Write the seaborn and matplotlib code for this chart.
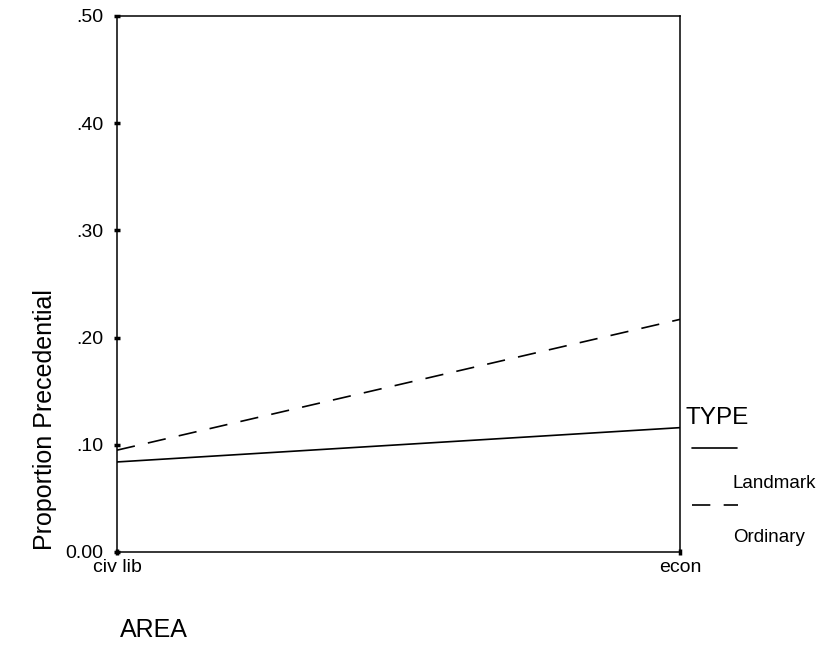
import matplotlib
matplotlib.use("Agg")
import matplotlib.pyplot as plt
import seaborn as sns
import pandas as pd
from matplotlib.lines import Line2D

sns.set_theme(style="white")
plt.rcParams['font.family'] = ['Liberation Sans', 'DejaVu Sans']
plt.rcParams['text.color'] = 'black'
plt.rcParams['xtick.color'] = 'black'
plt.rcParams['ytick.color'] = 'black'
plt.rcParams['axes.labelcolor'] = 'black'

areas = ["civ lib", "econ"]
landmark = [0.084, 0.116]
ordinary = [0.095, 0.217]
types = ["Landmark", "Ordinary"]
y_ticks = [0.0, 0.1, 0.2, 0.3, 0.4, 0.5]
y_tick_labels = ["0.00", ".10", ".20", ".30", ".40", ".50"]

df = pd.DataFrame({
    "AREA": areas * 2,
    "Proportion": landmark + ordinary,
    "TYPE": [types[0]] * 2 + [types[1]] * 2,
})

fig = plt.figure(figsize=(8.3, 6.45), dpi=100)
ax = fig.add_axes([117/830, 93/645, 563/830, 536/645])

sns.lineplot(data=df, x="AREA", y="Proportion", style="TYPE",
             style_order=types, dashes={"Landmark": "", "Ordinary": (11, 8)},
             color="black", linewidth=1.2, ax=ax, legend=False, sort=False)

ax.set_xlim(0, 1)
ax.set_ylim(0, 0.5)
ax.set_yticks(y_ticks)
ax.set_yticklabels(y_tick_labels, fontsize=14)
ax.set_xticks([0, 1])
ax.set_xticklabels(areas, fontsize=14)
ax.tick_params(axis="both", direction="inout", length=4, width=2.5, color="black",
               labelcolor="black", left=True, bottom=True)
ax.tick_params(axis="y", pad=8)
ax.tick_params(axis="x", pad=3)
for s in ax.spines.values():
    s.set_color("black")
    s.set_linewidth(1.1)
    s.set_visible(True)

ax.set_xlabel("")
ax.set_ylabel("")
fig.text(45/830, 1 - 420/645, "Proportion Precedential", rotation=90,
         ha="center", va="center", fontsize=18, color="black")
fig.text(120/830, 1 - 630/645, "AREA", ha="left", va="center", fontsize=18,
         color="black")

# legend
fig.text(685/830, 1 - 418/645, "TYPE", ha="left", va="center", fontsize=17.5,
         color="black")
fig.add_artist(Line2D([692/830, 737/830], [1 - 448/645, 1 - 448/645],
                      color="black", linewidth=1.2, transform=fig.transFigure))
fig.text(733/830, 1 - 483/645, "Landmark", ha="left", va="center", fontsize=13.5,
         color="black")
fig.add_artist(Line2D([692/830, 738/830], [1 - 505/645, 1 - 505/645],
                      color="black", linewidth=1.2, dashes=(11, 8),
                      transform=fig.transFigure))
fig.text(733/830, 1 - 538/645, "Ordinary", ha="left", va="center", fontsize=13.5,
         color="black")

fig.savefig("out.png", dpi=100)
